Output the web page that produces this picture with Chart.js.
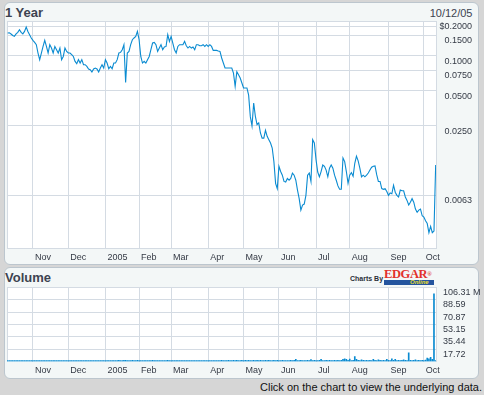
<!DOCTYPE html>
<html><head><meta charset="utf-8">
<script src="https://cdn.jsdelivr.net/npm/chart.js@4"></script>
<style>
html,body{margin:0;padding:0;}
body{width:484px;height:395px;background:#d6d6d6;position:relative;overflow:hidden;font-family:"Liberation Sans",Arial,sans-serif;}
.panel{position:absolute;left:4px;width:475px;background:#f3f7f7;border:1px solid #bcc6ce;border-radius:6px;box-sizing:border-box;}
#p1{top:2px;height:263px;}
#p2{top:267px;height:112px;}
.title{position:absolute;left:5px;font-weight:bold;font-size:13px;line-height:15px;color:#3d4350;}
.txt{position:absolute;white-space:nowrap;}
canvas{position:absolute;left:0;top:0;}
</style></head>
<body>
<div class="panel" id="p1"></div>
<div class="panel" id="p2"></div>
<div class="title" style="top:5px;">1 Year</div>
<div class="txt" style="right:11.5px;top:6.5px;font-size:11px;line-height:13px;color:#3d4350;">10/12/05</div>
<div class="title" style="top:269.5px;">Volume</div>
<div class="txt" style="left:350px;top:274px;font-size:7px;line-height:9px;font-weight:bold;color:#2a2f38;">Charts By</div>
<div class="txt" style="left:384px;top:268px;font-family:'Liberation Serif',serif;font-weight:bold;font-size:12.5px;line-height:13px;color:#e2312b;letter-spacing:-0.4px;">EDGAR<span style="font-size:6px;vertical-align:top;">&reg;</span></div>
<div class="txt" style="left:384px;top:279.5px;width:50px;height:5px;background:#24549e;"></div>
<div class="txt" style="left:410px;top:278.5px;font-size:6px;line-height:7px;font-style:italic;font-weight:bold;color:#e8de2c;">Online</div>
<div class="txt" style="right:2px;top:381px;font-size:11px;line-height:13px;color:#111;">Click on the chart to view the underlying data.</div>
<canvas id="c1" width="484" height="395"></canvas>
<canvas id="c2" width="484" height="395"></canvas>
<script>
// ---- data (trading days from 10/11/04 to 10/12/05) ----
const priceValues = [
0.1576,0.158,0.1546,0.150,0.1474,0.155,0.1596,0.1683,0.1596,0.155,0.1627,0.1776,0.1627,0.1524,0.1428,
0.1362,0.1308,0.125,0.106,0.0929,0.106,0.1208,0.1362,0.1208,0.106,0.125,0.117,0.106,0.1208,0.1132,
0.106,0.117,0.0929,0.099,0.117,0.1094,0.106,0.106,0.1026,0.099,0.0898,0.0857,0.0929,0.0869,0.0929,
0.0841,0.0841,0.0813,0.0772,0.0762,0.0727,0.0772,0.0787,0.0772,0.0727,0.0787,0.0841,0.0787,0.0929,0.0869,
0.0776,0.0813,0.0776,0.0869,0.0869,0.0929,0.106,0.1073,0.1132,0.125,0.0592,0.106,0.1094,0.125,0.138,
0.1428,0.1474,0.1627,0.138,0.099,0.0869,0.0898,0.0869,0.0929,0.099,0.1132,0.1292,0.1308,0.125,0.1094,
0.117,0.125,0.1132,0.1194,0.1208,0.1524,0.1334,0.1474,0.1292,0.1132,0.106,0.1208,0.125,0.125,0.125,
0.1334,0.1225,0.117,0.1208,0.117,0.1194,0.1132,0.125,0.125,0.1225,0.1225,0.125,0.1208,0.125,0.1208,
0.125,0.1208,0.1116,0.1116,0.1116,0.1104,0.1094,0.096,0.0869,0.0787,0.0787,0.0787,0.0787,0.0787,0.0713,
0.0547,0.073,0.0689,0.0646,0.0585,0.053,0.053,0.053,0.046,0.030,0.025,0.0393,0.0302,0.0256,0.0265,
0.0217,0.0196,0.0196,0.0229,0.0203,0.019,0.0178,0.0161,0.0123,0.0080,0.0072,0.0112,0.0101,0.0094,0.0083,
0.0082,0.0088,0.0085,0.0088,0.0098,0.0094,0.0085,0.0070,0.0059,0.0047,0.0052,0.0053,0.0063,0.0094,0.0098,
0.0083,0.019,0.0178,0.0128,0.0100,0.0091,0.0101,0.0115,0.0112,0.0104,0.0091,0.0108,0.0115,0.0108,0.0094,
0.0085,0.0076,0.0071,0.0071,0.0132,0.0123,0.0101,0.0080,0.0094,0.0099,0.0092,0.0119,0.0137,0.0125,0.0108,
0.0091,0.0094,0.0091,0.0094,0.0098,0.0104,0.0110,0.0112,0.0113,0.0095,0.0083,0.0083,0.0072,0.0071,0.0072,
0.0068,0.0063,0.0066,0.0065,0.0077,0.0067,0.0063,0.0061,0.0070,0.0069,0.0069,0.0061,0.0057,0.0052,0.0055,
0.0059,0.0055,0.0048,0.0045,0.0047,0.0048,0.0042,0.0041,0.0038,0.0036,0.0030,0.0034,0.0030,0.0031,0.0115
];
const volumeValues = [ // millions of shares
1.4,1.2,1.5,1.3,1.4,1.2,1.3,1.5,1.4,1.2,1.3,1.4,1.5,1.3,1.2,
1.3,1.4,1.2,1.5,1.4,1.3,1.2,1.4,1.5,1.3,1.4,1.2,1.3,1.5,1.4,
1.2,1.3,1.4,1.5,1.3,1.2,1.4,1.3,1.5,1.4,1.2,1.3,1.4,1.3,1.5,
1.4,1.2,1.3,1.4,1.5,1.3,1.2,1.4,1.3,1.5,1.4,1.3,1.2,1.4,1.5,
1.3,1.4,1.2,1.3,1.5,1.4,1.6,1.5,1.4,1.6,1.8,1.5,1.4,1.5,1.6,
1.5,1.4,1.6,1.5,1.4,1.3,1.5,1.4,1.3,1.5,1.4,1.6,1.5,1.4,1.3,
1.5,1.4,1.3,1.5,1.4,1.6,1.5,1.4,1.3,1.5,1.4,1.3,1.5,1.4,1.3,
1.4,1.5,1.3,1.4,1.5,1.3,1.4,1.5,1.3,1.4,1.5,1.3,1.4,1.5,1.3,
1.4,1.5,1.3,1.4,1.5,1.4,1.5,1.6,1.5,1.4,1.5,1.6,1.5,1.4,1.6,
1.5,1.6,1.5,1.4,1.6,1.5,1.6,1.5,1.6,1.4,1.5,1.6,1.5,1.6,1.5,
1.6,1.5,1.4,1.6,1.5,1.6,1.5,1.4,1.6,1.5,1.6,1.5,1.4,1.6,1.5,
1.4,1.5,1.4,1.6,1.5,1.6,3.0,1.5,1.4,1.6,1.5,1.4,1.5,1.6,1.4,
2.6,1.5,1.6,1.4,1.5,1.6,3.0,1.5,1.4,1.6,1.5,1.6,1.5,1.4,1.6,
1.5,1.6,1.5,1.6,3.2,4.0,3.0,1.6,3.5,1.5,1.6,7.0,3.0,1.6,1.5,
2.5,1.6,1.5,1.6,1.5,1.6,1.5,3.0,1.6,1.5,2.5,1.6,1.5,1.6,1.5,
3.0,1.6,1.5,4.0,1.6,3.0,1.5,1.6,1.5,1.6,2.5,1.6,1.5,12.5,1.6,
1.5,1.6,2.5,1.5,1.6,1.5,1.6,1.5,2.0,5.0,4.0,6.0,3.0,97.2,1.5
];
const tradingDays = priceValues.map((_, i) => i);
const monthTickDays = [15,36,58,78,97,119,140,161,183,203,226,247];
const monthTickLabels = ['Nov','Dec','2005','Feb','Mar','Apr','May','Jun','Jul','Aug','Sep','Oct'];
const priceTickValues = [0.2,0.1776,0.15,0.1,0.075,0.05,0.025,0.0063];
const priceTickLabels = ['$0.2000','','0.1500','0.1000','0.0750','0.0500','0.0250','0.0063'];
const volumeTickValues = [17.72,35.44,53.15,70.87,88.59,106.31];
const volumeTickLabels = ['17.72','35.44','53.15','70.87','88.59','106.31 M'];

// ---- style ----
const GRID = '#d4dbe3';
const LINE = '#0a8bd1';
const TEXT = '#343a45';
const FONT = {family:'"Liberation Sans", Arial, sans-serif', size:9};

const framePlugin = {
  id:'frame',
  beforeDraw(chart){
    const {ctx, chartArea:a} = chart;
    ctx.save();
    ctx.fillStyle = '#ffffff';
    ctx.fillRect(a.left, a.top, a.right - a.left, a.bottom - a.top);
    ctx.strokeStyle = GRID; ctx.lineWidth = 1;
    const x = Math.round(a.left) + 0.5;
    ctx.beginPath(); ctx.moveTo(x, a.top); ctx.lineTo(x, a.bottom); ctx.stroke();
    ctx.restore();
  }
};

function xScale(showBorder){
  return {
    type:'linear', min:-0.4, max:254.2, bounds:'data', offset:false,
    afterBuildTicks: s => { s.ticks = monthTickDays.map(v => ({value:v})); },
    afterFit: s => { s.height = 20; },
    grid:{color:GRID, lineWidth:1, drawTicks:false, offset:false},
    border:{display:showBorder, color:GRID},
    ticks:{autoSkip:false, maxRotation:0, minRotation:0, align:'start', labelOffset:2, padding:4,
           color:TEXT, font:FONT, callback:(v, i) => monthTickLabels[i]}
  };
}

new Chart(document.getElementById('c1'), {
  type:'line',
  data:{datasets:[{
    data: tradingDays.map((d, i) => ({x:d, y:priceValues[i]})),
    borderColor:LINE, borderWidth:1.1, pointRadius:0, tension:0, fill:false
  }]},
  options:{
    responsive:false, animation:false, events:[],
    layout:{padding:{left:7, top:21, right:12, bottom:127}},
    plugins:{legend:{display:false}, tooltip:{enabled:false}},
    scales:{
      x: xScale(true),
      y: {
        type:'logarithmic', position:'right', min:0.002217, max:0.2, bounds:'data',
        afterBuildTicks: s => { s.ticks = priceTickValues.map(v => ({value:v})); },
        afterFit: s => { s.width = 36; },
        grid:{color:GRID, lineWidth:1, drawTicks:false},
        border:{display:true, color:GRID},
        ticks:{crossAlign:'far', labelOffset:5.5, padding:4, color:TEXT, font:FONT,
               callback:(v, i) => priceTickLabels[i]}
      }
    }
  },
  plugins:[framePlugin]
});

new Chart(document.getElementById('c2'), {
  type:'bar',
  data:{datasets:[{
    data: tradingDays.map((d, i) => ({x:d, y:volumeValues[i]})),
    backgroundColor:LINE, borderWidth:0, barThickness:1
  }]},
  options:{
    responsive:false, animation:false, events:[], indexAxis:'x',
    layout:{padding:{left:7, top:287.5, right:2, bottom:13.5}},
    plugins:{legend:{display:false}, tooltip:{enabled:false}},
    scales:{
      x: xScale(false),
      y: {
        type:'linear', position:'right', min:0, max:106.31, bounds:'data',
        afterBuildTicks: s => { s.ticks = volumeTickValues.map(v => ({value:v})); },
        afterFit: s => { s.width = 46; },
        grid:{color:GRID, lineWidth:1, drawTicks:false},
        border:{display:true, color:GRID},
        ticks:{crossAlign:'near', labelOffset:5, padding:7, color:TEXT, font:FONT,
               callback:(v, i) => volumeTickLabels[i]}
      }
    }
  },
  plugins:[framePlugin]
});
</script>
</body></html>
